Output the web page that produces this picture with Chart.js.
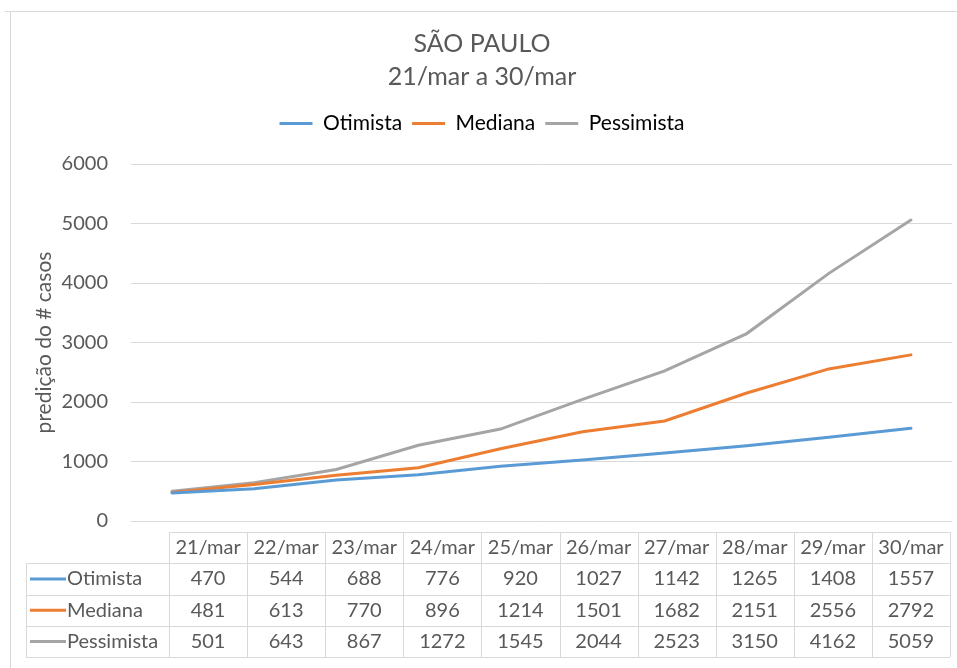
<!DOCTYPE html>
<html lang="pt-BR">
<head>
<meta charset="UTF-8" />
<title>São Paulo - predição de casos</title>
<script src="https://cdn.jsdelivr.net/npm/chart.js"></script>
<style>
  html, body { margin: 0; padding: 0; background: #fff; }
</style>
</head>
<body>
<canvas id="chart" width="957" height="668"></canvas>
<script>
const dias = ["21/mar", "22/mar", "23/mar", "24/mar", "25/mar", "26/mar", "27/mar", "28/mar", "29/mar", "30/mar"];
const otimista = [470, 544, 688, 776, 920, 1027, 1142, 1265, 1408, 1557];
const mediana = [481, 613, 770, 896, 1214, 1501, 1682, 2151, 2556, 2792];
const pessimista = [501, 643, 867, 1272, 1545, 2044, 2523, 3150, 4162, 5059];
const yMin = 0, yMax = 6000, yStep = 1000;

const FONT = "Lato, 'Open Sans', sans-serif";
const TXT = "#595959";
const GRID = "#d9d9d9";

const series = [
  { label: "Otimista", data: otimista, color: "#5b9bd5" },
  { label: "Mediana", data: mediana, color: "#ed7d31" },
  { label: "Pessimista", data: pessimista, color: "#a5a5a5" }
];

// moldura do gráfico
const frame = {
  id: "frame",
  beforeDraw(chart) {
    const ctx = chart.ctx;
    ctx.save();
    ctx.fillStyle = "#fff";
    ctx.fillRect(0, 0, chart.width, chart.height);
    ctx.strokeStyle = GRID;
    ctx.lineWidth = 1;
    ctx.beginPath();
    ctx.moveTo(5, 11.5); ctx.lineTo(chart.width, 11.5);
    ctx.moveTo(10.5, 11.5); ctx.lineTo(10.5, chart.height);
    ctx.stroke();
    ctx.restore();
  }
};

// espaço extra abaixo da legenda
const legendGap = {
  id: "legendGap",
  beforeLayout(chart) {
    const lg = chart.legend;
    if (lg && !lg._gap) {
      const fit = lg.fit;
      lg.fit = function () { fit.call(this); this.height += 20; };
      lg._gap = true;
    }
  }
};

// tabela de dados abaixo do gráfico
const dataTable = {
  id: "dataTable",
  afterDraw(chart) {
    const ctx = chart.ctx;
    const area = chart.chartArea;
    const top = area.bottom + 11;
    const rowH = 31.3;
    const left = 26, colLeft = 169, right = area.right - 2;
    const colW = (right - colLeft) / dias.length;
    const bottom = top + rowH * (series.length + 1);

    ctx.save();
    ctx.strokeStyle = GRID;
    ctx.lineWidth = 1;
    ctx.beginPath();
    ctx.moveTo(colLeft, top + 0.5); ctx.lineTo(right, top + 0.5);
    for (let r = 1; r <= series.length + 1; r++) {
      const y = Math.round(top + rowH * r) + 0.5;
      ctx.moveTo(left, y); ctx.lineTo(right, y);
    }
    ctx.moveTo(left + 0.5, top + rowH); ctx.lineTo(left + 0.5, bottom);
    for (let c = 0; c <= dias.length; c++) {
      const x = Math.round(colLeft + colW * c) + 0.5;
      ctx.moveTo(x, top); ctx.lineTo(x, bottom);
    }
    ctx.stroke();

    ctx.font = "20px " + FONT;
    ctx.fillStyle = TXT;
    ctx.textBaseline = "middle";
    ctx.textAlign = "center";
    dias.forEach((d, i) => ctx.fillText(d, colLeft + colW * (i + 0.5), top + rowH / 2));

    series.forEach((s, r) => {
      const cy = top + rowH * (r + 1.5);
      ctx.strokeStyle = s.color;
      ctx.lineWidth = 3;
      ctx.beginPath();
      ctx.moveTo(30, cy); ctx.lineTo(66, cy);
      ctx.stroke();
      ctx.fillStyle = TXT;
      ctx.textAlign = "left";
      ctx.fillText(s.label, 67, cy);
      ctx.textAlign = "center";
      s.data.forEach((v, i) => ctx.fillText(String(v), colLeft + colW * (i + 0.5), cy));
    });
    ctx.restore();
  }
};

new Chart(document.getElementById("chart"), {
  type: "line",
  data: {
    labels: dias,
    datasets: series.map((s) => ({
      label: s.label,
      data: s.data,
      borderColor: s.color,
      backgroundColor: s.color,
      borderWidth: 3,
      borderCapStyle: "round",
      pointRadius: 0,
      tension: 0
    }))
  },
  options: {
    responsive: false,
    animation: false,
    layout: { padding: { top: 12, left: 12, right: 5, bottom: 147 } },
    plugins: {
      title: {
        display: true,
        text: "SÃO PAULO",
        color: TXT,
        font: { family: FONT, size: 25, weight: "normal" },
        padding: { top: 17, bottom: 2 }
      },
      subtitle: {
        display: true,
        text: "21/mar a 30/mar",
        color: TXT,
        font: { family: FONT, size: 25, weight: "normal" },
        padding: { top: 1, bottom: 11 }
      },
      legend: {
        position: "top",
        labels: {
          color: TXT,
          font: { family: FONT, size: 21 },
          boxWidth: 33,
          boxHeight: 3,
          padding: 10,
          generateLabels(chart) {
            return chart.data.datasets.map((ds, i) => ({
              text: ds.label,
              fillStyle: ds.borderColor,
              strokeStyle: ds.borderColor,
              lineWidth: 0,
              datasetIndex: i
            }));
          }
        }
      },
      tooltip: { enabled: false }
    },
    scales: {
      x: { display: false, offset: true },
      y: {
        min: yMin,
        max: yMax,
        ticks: {
          stepSize: yStep,
          color: TXT,
          padding: 23,
          font: { family: FONT, size: 20 },
          callback: (v) => String(v)
        },
        grid: { color: GRID, drawTicks: false },
        border: { display: false },
        title: {
          display: true,
          text: "predição do # casos",
          color: TXT,
          font: { family: FONT, size: 21 },
          padding: { top: 20, bottom: 0 }
        },
        afterFit(scale) { scale.width = 131 - 12; }
      }
    }
  },
  plugins: [frame, legendGap, dataTable]
});
</script>
</body>
</html>
